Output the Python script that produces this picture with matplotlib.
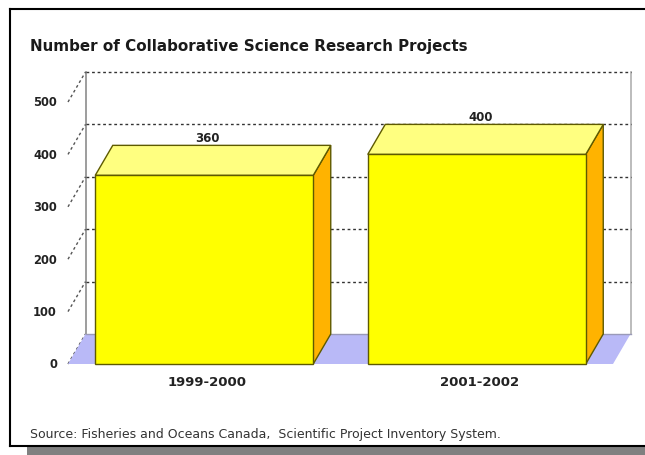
import matplotlib
matplotlib.use('Agg')
import matplotlib.pyplot as plt
from matplotlib.patches import Polygon, Rectangle
from matplotlib.lines import Line2D

# ---- data ----
categories = ['1999-2000', '2001-2002']
values = [360, 400]
yticks = [0, 100, 200, 300, 400, 500]
title = 'Number of Collaborative Science Research Projects'
source = 'Source: Fisheries and Oceans Canada,  Scientific Project Inventory System.'

plt.rcParams['font.family'] = ['DejaVu Sans']

W, H = 645, 456
fig = plt.figure(figsize=(W / 100, H / 100), dpi=100)
fig.patch.set_facecolor('white')

# front plane axes
ax = fig.add_axes([68 / W, (H - 365) / H, 545 / W, 262 / H])
ax.set_xlim(-0.5, 1.5)
ax.set_ylim(0, 500)
ax.axis('off')

# depth offset in data units (17.5 px right, 30 px up)
DX = 17.5 / (545 / 2.0)
DY = 30 / (262 / 500.0)
x_lo, x_hi = ax.get_xlim()
y_top = yticks[-1]

grid_kw = dict(color='#333333', lw=1.0, linestyle=(0, (2, 2)), clip_on=False)

# back wall
ax.add_patch(Rectangle((x_lo + DX, DY), x_hi - x_lo, y_top, facecolor='white',
                       edgecolor='none', zorder=1, clip_on=False))
ax.add_line(Line2D([x_lo + DX, x_lo + DX], [DY, y_top + DY], color='#8c8c8c', lw=1.2,
                   zorder=2, clip_on=False))
ax.add_line(Line2D([x_hi + DX, x_hi + DX], [DY, y_top + DY], color='#b0b0b0', lw=1.2,
                   zorder=2, clip_on=False))
for v in yticks[1:]:
    ax.add_line(Line2D([x_lo + DX, x_hi + DX], [v + DY, v + DY], zorder=2, **grid_kw))
# left side diagonal ticks
for v in yticks:
    ax.add_line(Line2D([x_lo, x_lo + DX], [v, v + DY], color='#555555', lw=1.0,
                       linestyle=(0, (2, 2)), zorder=2, clip_on=False))

# floor
ax.add_patch(Polygon([(x_lo, 0), (x_hi, 0), (x_hi + DX, DY), (x_lo + DX, DY)],
                     closed=True, facecolor='#b9b9f7', edgecolor='none', zorder=3,
                     clip_on=False))
ax.add_line(Line2D([x_lo + DX, x_hi + DX], [DY, DY], color='#9a9ab8', lw=1.0, zorder=3,
                   clip_on=False))

# bars
bw = 0.8
edge = '#5e5a00'
for i, v in enumerate(values):
    x0, x1 = i - bw / 2, i + bw / 2
    ax.add_patch(Polygon([(x1, 0), (x1 + DX, DY), (x1 + DX, v + DY), (x1, v)], closed=True,
                         facecolor='#ffb300', edgecolor=edge, lw=1.0, zorder=4, clip_on=False))
    ax.add_patch(Polygon([(x0, v), (x1, v), (x1 + DX, v + DY), (x0 + DX, v + DY)], closed=True,
                         facecolor='#ffff80', edgecolor=edge, lw=1.0, zorder=4, clip_on=False))
    ax.add_patch(Rectangle((x0, 0), bw, v, facecolor='#ffff00', edgecolor=edge, lw=1.0,
                           zorder=5, clip_on=False))
    ax.annotate(str(v), xy=(i, v + DY), xytext=(2.5, 5.5), textcoords='offset points',
                ha='center', va='center', fontsize=8.5, fontweight='bold', color='#222222',
                zorder=6)
    ax.annotate(categories[i], xy=(i, 0), xytext=(2, -12.5), textcoords='offset points',
                ha='center', va='center', fontsize=9.5, fontweight='bold', color='#222222')

# y tick labels
for v in yticks:
    ax.annotate(str(v), xy=(x_lo, v), xytext=(-8, 0), textcoords='offset points',
                ha='right', va='center', fontsize=8.3, fontweight='bold', color='#222222')

# texts
fig.text(30 / W, 1 - 47 / H, title, ha='left', va='center', fontsize=10.9,
         fontweight='bold', color='#1a1a1a')
fig.text(30 / W, 1 - 435 / H, source, ha='left', va='center', fontsize=9.0,
         color='#333333')

# frame and shadow
fig.add_artist(Rectangle((27 / W, 0), (W - 27) / W, 8 / H, transform=fig.transFigure,
                         facecolor='#808080', edgecolor='none'))
for xs, ys in [([10, 10], [10, 447]), ([10, W], [10, 10]), ([10, W], [447, 447])]:
    fig.add_artist(Line2D([x / W for x in xs], [1 - y / H for y in ys],
                          transform=fig.transFigure, color='black', lw=1.5))

fig.savefig('out.png', dpi=100, facecolor='white')
